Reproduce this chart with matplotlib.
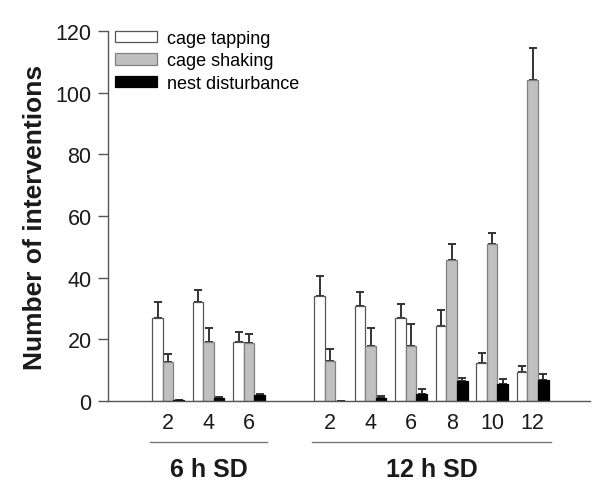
import matplotlib
matplotlib.use("Agg")
import matplotlib.pyplot as plt
import numpy as np
from matplotlib.patches import Patch

plt.rcParams["font.family"] = ["Liberation Sans", "DejaVu Sans"]

# hours of sleep deprivation, per protocol
hours_6 = ["2", "4", "6"]
hours_12 = ["2", "4", "6", "8", "10", "12"]
groups = ["6 h SD", "12 h SD"]

tapping = [26.9, 32.0, 19.2, 34.0, 30.7, 26.8, 24.4, 12.4, 9.3]
tapping_err = [5.1, 4.1, 3.2, 6.4, 4.8, 4.6, 5.2, 3.1, 2.0]
shaking = [12.6, 19.2, 18.8, 13.0, 17.9, 17.8, 45.7, 50.8, 104.0]
shaking_err = [2.6, 4.4, 3.0, 3.9, 5.8, 7.2, 5.1, 3.7, 10.5]
nest = [0.3, 1.0, 2.0, 0.0, 1.0, 2.3, 6.5, 5.6, 6.9]
nest_err = [0.0, 0.3, 0.3, 0.0, 0.7, 1.5, 1.1, 1.5, 1.9]

INK = "#1a1a1a"
AXIS = "#555555"

pos_6 = np.arange(len(hours_6))
pos_12 = np.arange(len(hours_12)) + len(hours_6) + 1
pos = np.concatenate([pos_6, pos_12])
width = 0.26

fig = plt.figure(figsize=(5.98, 4.81), dpi=100, facecolor="white")
ax = fig.add_axes([0.181, 0.1642, 0.806, 0.7693])

series = [
    (tapping, tapping_err, "white", "#555555", "cage tapping", -width),
    (shaking, shaking_err, "#c0c0c0", "#808080", "cage shaking", 0.0),
    (nest, nest_err, "black", "black", "nest disturbance", width),
]
handles = []
for values, err, face, edge, label, offset in series:
    x = pos + offset
    ax.bar(x, values, width=width, color=face, edgecolor=edge, linewidth=0.9, zorder=2)
    ax.errorbar(x, values, yerr=[np.zeros(len(values)), err], fmt="none",
                ecolor="#333333", elinewidth=1.4, capsize=2.6, capthick=1.4, zorder=1)
    handles.append(Patch(facecolor=face, edgecolor=edge, linewidth=0.9, label=label))

ax.set_ylim(0, 120)
ax.set_xlim(-1.48, pos[-1] + 1.42)
ax.set_yticks(np.arange(0, 121, 20))
ax.set_xticks(pos)
ax.set_xticklabels(hours_6 + hours_12)
ax.tick_params(axis="y", direction="out", length=7, width=1, color=AXIS,
               labelsize=15.5, labelcolor=INK, pad=5)
ax.tick_params(axis="x", length=0, labelsize=15.5, labelcolor=INK, pad=8)
for side in ("top", "right"):
    ax.spines[side].set_visible(False)
for side in ("left", "bottom"):
    ax.spines[side].set_color(AXIS)
    ax.spines[side].set_linewidth(1.0)

ax.set_ylabel("Number of interventions", fontsize=19, fontweight="bold", color=INK, labelpad=6)

trans = ax.get_xaxis_transform()
for name, p in zip(groups, (pos_6, pos_12)):
    ax.plot([p[0] - 0.45, p[-1] + 0.45], [-0.111, -0.111], transform=trans,
            color="#777777", linewidth=1.0, clip_on=False)
    ax.text((p[0] + p[-1]) / 2, -0.183, name, transform=trans, ha="center", va="center",
            fontsize=18, fontweight="bold", color=INK)

ax.legend(handles=handles, loc="upper left", bbox_to_anchor=(-0.012, 1.037), frameon=False,
          fontsize=13, handlelength=2.3, handleheight=0.6, handletextpad=0.6,
          labelspacing=0.3, borderpad=0.2)

fig.savefig("out.png", dpi=100, facecolor="white")
